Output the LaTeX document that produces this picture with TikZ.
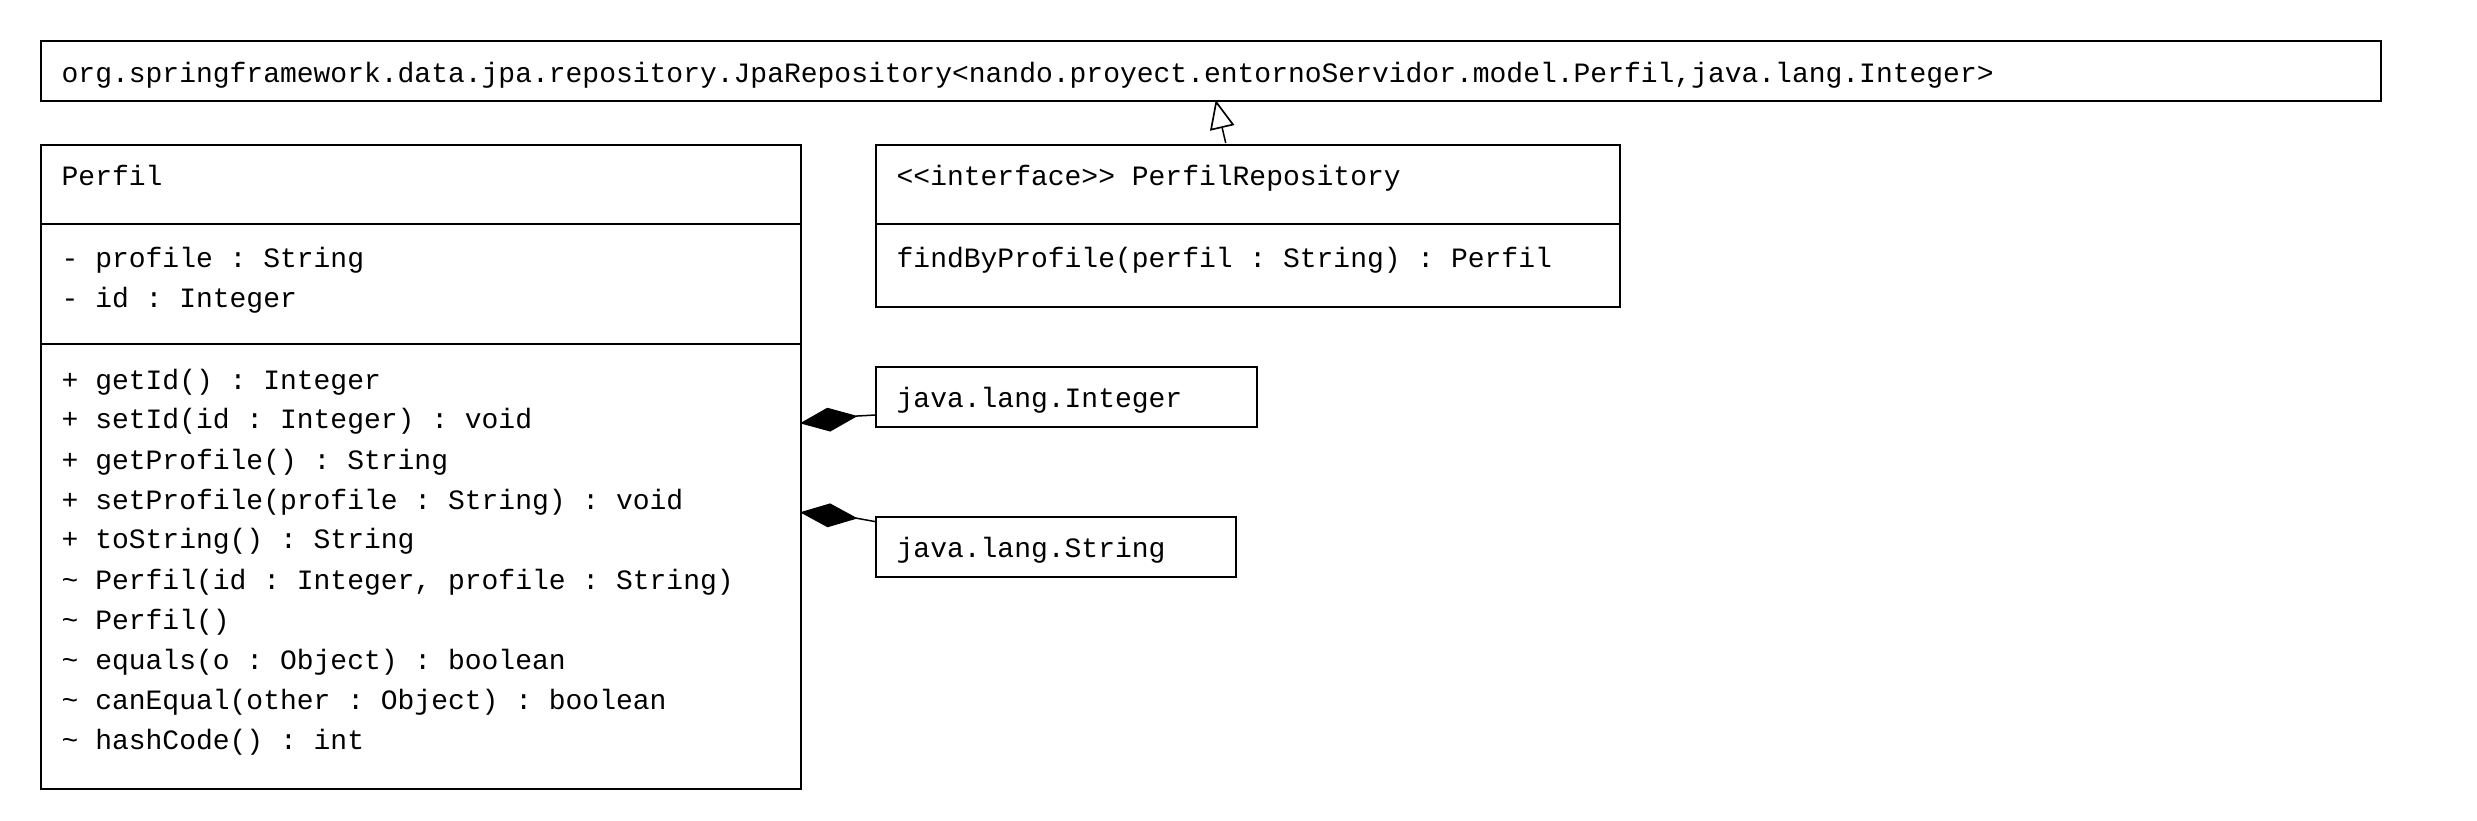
\documentclass[tikz,border=0pt]{standalone}
\usepackage{fontspec}
\setmonofont{Liberation Mono}
\usetikzlibrary{arrows.meta}
\begin{document}
\begin{tikzpicture}[x=0.3pt,y=-0.3pt,
  umlbox/.style={draw, line width=0.6pt, inner sep=0pt, anchor=north west},
  divider/.style={line width=0.6pt},
  txt/.style={anchor=base west, inner sep=0pt, font=\ttfamily\fontsize{8.4}{10}\selectfont},
  conn/.style={line width=0.45pt},
  compo/.style={conn, {Diamond[length=17.4pt,width=7.2pt]}-},
  gener/.style={conn, -{Triangle[open,length=8.6pt,width=7.4pt,line width=0.5pt]}}]
\useasboundingbox (0,0) rectangle (2477,821);

% boxes
\node[umlbox, minimum width=702pt, minimum height=18pt] (jpa) at (40,40) {};
\node[umlbox, minimum width=228pt, minimum height=193.2pt] (perfil) at (40,144) {};
\node[umlbox, minimum width=223.2pt, minimum height=48.6pt] (repo) at (875,144) {};
\node[umlbox, minimum width=114.3pt, minimum height=18pt] (integer) at (875,366) {};
\node[umlbox, minimum width=108pt, minimum height=18pt] (string) at (875,516) {};

% compartments
\draw[divider] (40,224) -- (800,224);
\draw[divider] (40,344) -- (800,344);
\draw[divider] (875,224) -- (1619,224);

% texts
\node[txt] (tjpa) at (61,83) {org.springframework.data.jpa.repository.JpaRepository<nando.proyect.entornoServidor.model.Perfil,java.lang.Integer>};
\node[txt] (tperfil) at (61,186) {Perfil};
\node[txt] (a1) at (61,268) {- profile : String};
\node[txt] (a2) at (61,308) {- id : Integer};
\node[txt] (m1) at (61,389) {+ getId() : Integer};
\node[txt] (m2) at (61,429) {+ setId(id : Integer) : void};
\node[txt] (m3) at (61,469) {+ getProfile() : String};
\node[txt] (m4) at (61,509) {+ setProfile(profile : String) : void};
\node[txt] (m5) at (61,549) {+ toString() : String};
\node[txt] (m6) at (61,589) {\textasciitilde{} Perfil(id : Integer, profile : String)};
\node[txt] (m7) at (61,629) {\textasciitilde{} Perfil()};
\node[txt] (m8) at (61,669) {\textasciitilde{} equals(o : Object) : boolean};
\node[txt] (m9) at (61,709) {\textasciitilde{} canEqual(other : Object) : boolean};
\node[txt] (m10) at (61,749) {\textasciitilde{} hashCode() : int};
\node[txt] (trepo) at (896,186) {<<interface>> PerfilRepository};
\node[txt] (r1) at (896,268) {findByProfile(perfil : String) : Perfil};
\node[txt] (tint) at (896,407) {java.lang.Integer};
\node[txt] (tstr) at (896,557) {java.lang.String};

% connectors
\coordinate (gstart) at (1225.7,143);
\coordinate (gend) at (1215.7,100);
\draw[gener] (gstart) -- (gend);

\coordinate (d1tip) at (800,423.3);
\coordinate (d1mid) at (857.7,416);
\coordinate (d1end) at (875.7,415);
\draw[compo] (d1tip) -- (d1mid) -- (d1end);

\coordinate (d2tip) at (800,512.3);
\coordinate (d2mid) at (857,518.3);
\coordinate (d2end) at (875.7,521.7);
\draw[compo] (d2tip) -- (d2mid) -- (d2end);
\end{tikzpicture}
\end{document}
